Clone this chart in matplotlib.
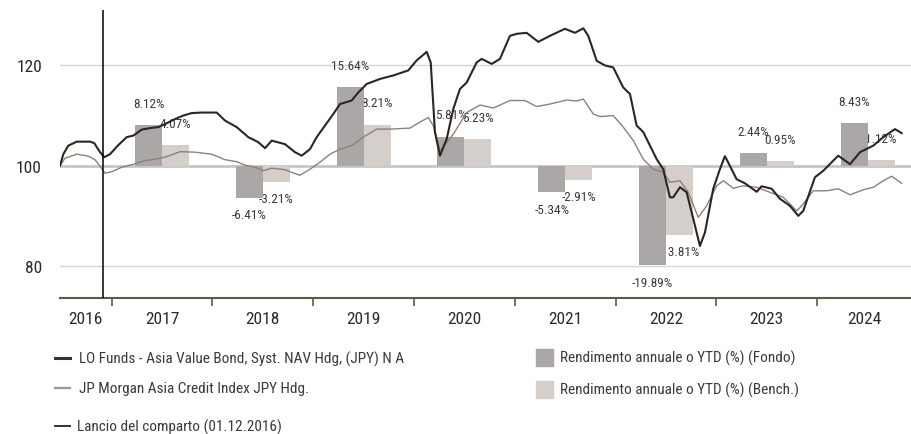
import matplotlib
matplotlib.use('Agg')
import matplotlib.pyplot as plt
from matplotlib.lines import Line2D
from matplotlib.patches import Rectangle

plt.rcParams['font.family'] = ['Roboto Condensed', 'Archivo Narrow', 'DejaVu Sans']

# NAV of the fund, rebased to 100 (x in decimal years)
fund_t = [2016.487, 2016.520, 2016.569, 2016.653, 2016.785, 2016.827, 2016.884, 2016.927,
          2016.983, 2017.065, 2017.149, 2017.214, 2017.298, 2017.380, 2017.462, 2017.529,
          2017.628, 2017.710, 2017.794, 2017.893, 2018.042, 2018.124, 2018.240, 2018.355,
          2018.454, 2018.521, 2018.587, 2018.719, 2018.818, 2018.885, 2018.967, 2019.034,
          2019.116, 2019.198, 2019.265, 2019.381, 2019.446, 2019.530, 2019.662, 2019.794,
          2019.942, 2020.026, 2020.125, 2020.165, 2020.207, 2020.257, 2020.323, 2020.389,
          2020.455, 2020.522, 2020.621, 2020.671, 2020.770, 2020.852, 2020.951, 2021.018,
          2021.117, 2021.232, 2021.348, 2021.497, 2021.596, 2021.679, 2021.728, 2021.812,
          2021.894, 2021.976, 2022.075, 2022.142, 2022.208, 2022.274, 2022.407, 2022.472,
          2022.538, 2022.571, 2022.638, 2022.704, 2022.770, 2022.836, 2022.886, 2022.968,
          2023.034, 2023.084, 2023.133, 2023.200, 2023.282, 2023.399, 2023.448, 2023.548,
          2023.630, 2023.729, 2023.812, 2023.861, 2023.977, 2024.060, 2024.208, 2024.325,
          2024.424, 2024.556, 2024.655, 2024.771, 2024.837]
fund_v = [100.0, 102.3, 104.0, 104.8, 104.8, 104.5, 102.7, 101.7,
          102.3, 104.1, 105.7, 106.0, 107.2, 107.5, 107.7, 108.3,
          109.3, 110.0, 110.5, 110.6, 110.6, 109.0, 107.7, 105.7,
          104.7, 103.5, 105.0, 104.3, 102.7, 102.0, 103.3, 105.7,
          108.0, 110.3, 112.3, 113.0, 114.6, 116.3, 117.3, 118.0,
          119.0, 121.0, 122.7, 120.6, 106.7, 102.0, 105.3, 111.3,
          115.3, 116.6, 120.6, 121.3, 120.3, 121.3, 125.9, 126.3,
          126.5, 124.7, 125.9, 127.3, 126.5, 127.4, 125.9, 120.9,
          120.0, 119.6, 115.6, 114.3, 108.0, 106.7, 101.3, 99.3,
          93.7, 93.7, 95.7, 94.7, 89.4, 84.0, 86.7, 95.4,
          99.3, 101.9, 100.0, 97.3, 96.5, 94.8, 95.9, 95.4,
          93.4, 92.0, 90.0, 91.0, 97.7, 99.0, 102.0, 100.3,
          102.7, 104.0, 105.7, 107.3, 106.5]

# benchmark, rebased to 100
bench_t = [2016.487, 2016.537, 2016.653, 2016.768, 2016.834, 2016.884, 2016.934, 2017.000,
           2017.099, 2017.214, 2017.330, 2017.430, 2017.529, 2017.678, 2017.826, 2017.992,
           2018.124, 2018.240, 2018.322, 2018.422, 2018.504, 2018.587, 2018.719, 2018.769,
           2018.868, 2018.967, 2019.066, 2019.166, 2019.265, 2019.381, 2019.496, 2019.629,
           2019.761, 2019.959, 2020.058, 2020.141, 2020.190, 2020.257, 2020.389, 2020.522,
           2020.654, 2020.786, 2020.951, 2021.100, 2021.216, 2021.348, 2021.514, 2021.613,
           2021.679, 2021.778, 2021.844, 2021.976, 2022.075, 2022.175, 2022.274, 2022.373,
           2022.472, 2022.538, 2022.638, 2022.720, 2022.819, 2022.903, 2023.002, 2023.069,
           2023.168, 2023.266, 2023.399, 2023.531, 2023.663, 2023.796, 2023.845, 2023.960,
           2024.093, 2024.208, 2024.325, 2024.456, 2024.556, 2024.655, 2024.738, 2024.837]
bench_v = [100.0, 101.5, 102.3, 101.9, 101.2, 99.9, 98.5, 98.8,
           99.7, 100.3, 101.0, 101.3, 101.7, 102.8, 102.7, 102.3,
           101.2, 100.8, 100.1, 99.7, 99.0, 99.5, 99.2, 98.8,
           98.1, 99.3, 100.7, 102.3, 103.3, 104.0, 105.7, 107.3,
           107.3, 107.5, 108.7, 109.6, 108.0, 103.0, 106.3, 110.6,
           112.1, 111.5, 113.0, 113.0, 111.8, 112.3, 113.1, 112.9,
           113.3, 110.3, 109.8, 110.0, 107.7, 105.0, 101.3, 99.3,
           98.7, 96.7, 97.0, 94.7, 89.7, 92.0, 96.0, 97.0,
           95.5, 96.0, 95.7, 94.7, 93.7, 91.0, 92.0, 95.0,
           95.0, 95.4, 94.2, 95.2, 95.7, 97.0, 97.9, 96.5]

years = [2017, 2018, 2019, 2020, 2021, 2022, 2023, 2024]
fund_ret = [8.12, -6.41, 15.64, 5.81, -5.34, -19.89, 2.44, 8.43]
bench_ret = [4.07, -3.21, 8.21, 5.23, -2.91, -13.81, 0.95, 1.12]
year_labels = ['2016', '2017', '2018', '2019', '2020', '2021', '2022', '2023', '2024']
launch = 2016.917

c_fund = '#2e2523'
c_bench = '#8f8078'
c_fbar = '#aca7a7'
c_bbar = '#d4cfcb'
c_text = '#3a3a3a'

fig = plt.figure(figsize=(9.12, 4.35), dpi=100)
ax = fig.add_axes([60 / 912, 1 - 299.3 / 435, 852 / 912, 288.3 / 435])
xmin, xmax = 2016.487, 2024.94
ax.set_xlim(xmin, xmax)
ax.set_ylim(73.56, 131.05)

# grid
for g in (80, 120):
    ax.axhline(g, color='#d6d6d6', lw=1.0, zorder=0.5)
ax.axhline(100, color='#c6c6c6', lw=2.0, zorder=0.5)

# annual returns as bars around the 100 line
w = 0.268
for i, yr in enumerate(years):
    xf = yr + 0.5 - w / 2
    xb = yr + 0.5 + w / 2
    ax.bar(xf, fund_ret[i], width=w, bottom=100, color=c_fbar, zorder=2)
    ax.bar(xb, bench_ret[i], width=w, bottom=100, color=c_bbar, zorder=2)
    for x, r in ((xf, fund_ret[i]), (xb, bench_ret[i])):
        off = 15.75 if r > 0 else -12
        ax.annotate('%.2f%%' % r, (x, 100 + r), xytext=(0, off), textcoords='offset points',
                    ha='center', va='center', fontsize=9.5, color=c_text, zorder=1)

ax.plot(bench_t, bench_v, color=c_bench, lw=1.0, zorder=3)
ax.plot(fund_t, fund_v, color=c_fund, lw=1.5, zorder=3)
ax.axvline(launch, color='black', lw=1.1, zorder=4)

# axes styling
for s in ('top', 'right', 'left'):
    ax.spines[s].set_visible(False)
ax.spines['bottom'].set_color('#5a5a48')
ax.spines['bottom'].set_linewidth(1.5)
ax.set_yticks([80, 100, 120])
ax.tick_params(axis='y', length=0, pad=13, labelsize=12.5, labelcolor='#2a2a2a')
ax.set_xticks(years)
ax.set_xticklabels([])
mids = [(xmin + 2017) / 2] + [y + 0.5 for y in years[:-1]] + [(2024 + xmax) / 2]
ax.set_xticks(mids, minor=True)
ax.set_xticklabels(year_labels, minor=True)
ax.tick_params(axis='x', which='major', length=6, width=1.2, color='#5a5a48', direction='out')
ax.tick_params(axis='x', which='minor', length=0, pad=9, labelsize=12.5, labelcolor='#2a2a2a')

# legend
def fy(py):
    return 1 - py / 435

fig.add_artist(Line2D([55 / 912, 70 / 912], [fy(359.3)] * 2, color='#3a302c', lw=2.2,
                      transform=fig.transFigure))
fig.add_artist(Line2D([55 / 912, 70 / 912], [fy(389.3)] * 2, color='#a09890', lw=1.6,
                      transform=fig.transFigure))
fig.add_artist(Line2D([55 / 912, 70 / 912], [fy(427.3)] * 2, color='#222222', lw=1.3,
                      transform=fig.transFigure))
fig.text(79 / 912, fy(359.3), 'LO Funds - Asia Value Bond, Syst. NAV Hdg, (JPY) N A',
         va='center', fontsize=11, color=c_text)
fig.text(79 / 912, fy(389.3), 'JP Morgan Asia Credit Index JPY Hdg.',
         va='center', fontsize=11, color=c_text)
fig.text(77 / 912, fy(427.3), 'Lancio del comparto (01.12.2016)',
         va='center', fontsize=11, color=c_text)

fig.add_artist(Rectangle((536 / 912, fy(366.7)), 16.7 / 912, 16.7 / 435, color=c_fbar,
                         transform=fig.transFigure))
fig.add_artist(Rectangle((536 / 912, fy(398.7)), 16.7 / 912, 16.7 / 435, color=c_bbar,
                         transform=fig.transFigure))
fig.text(560 / 912, fy(358.3), 'Rendimento annuale o YTD (%) (Fondo)',
         va='center', fontsize=11, color=c_text)
fig.text(560 / 912, fy(390.7), 'Rendimento annuale o YTD (%) (Bench.)',
         va='center', fontsize=11, color=c_text)

fig.savefig('out.png', dpi=100)
